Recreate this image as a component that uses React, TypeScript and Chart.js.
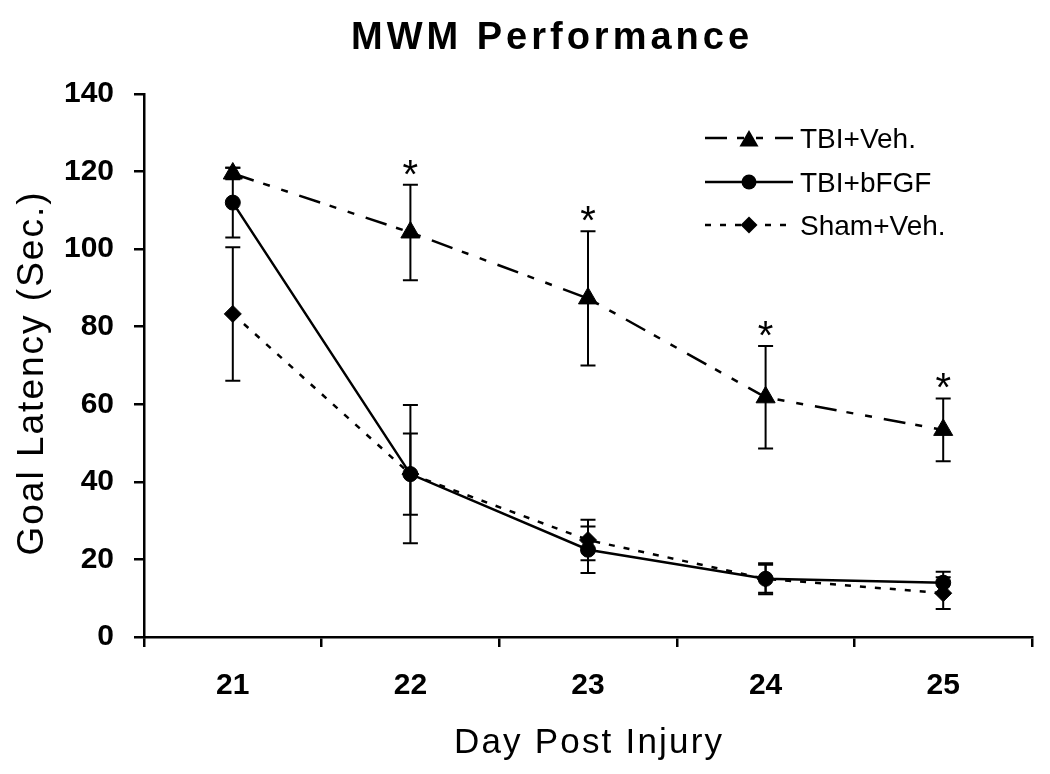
import React, { useEffect, useRef } from "react";
import { Chart, registerables } from "chart.js";

Chart.register(...registerables);

// ---- data ----
const days = ["21", "22", "23", "24", "25"];
const tbiVeh = [119.5, 104.3, 87.3, 61.8, 53.4];
const tbiVehSem = [1.5, 12.3, 17.3, 13.2, 8.1];
const tbiBfgf = [112, 42, 22.5, 15, 14];
const tbiBfgfSem = [9, 10.5, 6, 3.6, 2.8];
const shamVeh = [83.3, 42, 25, 15, 11.3];
const shamVehSem = [17.2, 17.8, 5.2, 4, 4.1];
const significant = [false, true, true, true, true];
const seriesNames = ["TBI+Veh.", "TBI+bFGF", "Sham+Veh."];

const chartTitle = "MWM Performance";
const xTitle = "Day Post Injury";
const yTitle = "Goal Latency (Sec.)";

const FONT = "'Liberation Sans', Arial, Helvetica, sans-serif";
const BLACK = "#000000";

const dashVeh = [22, 10, 7, 12, 7, 12];
const dashSham = [6, 9];
const sems = [tbiVehSem, tbiBfgfSem, shamVehSem];

function drawText(
  ctx: CanvasRenderingContext2D,
  text: string,
  x: number,
  y: number,
  font: string,
  spacing: number,
  align: CanvasTextAlign = "center",
  rotate = 0
) {
  ctx.save();
  ctx.font = font;
  (ctx as any).letterSpacing = spacing + "px";
  ctx.fillStyle = BLACK;
  ctx.textAlign = align;
  ctx.textBaseline = "alphabetic";
  ctx.translate(x, y);
  if (rotate) ctx.rotate(rotate);
  const shift = align === "center" ? spacing / 2 : 0;
  ctx.fillText(text, shift, 0);
  ctx.restore();
}

function drawMarker(ctx: CanvasRenderingContext2D, style: string, r: number, x: number, y: number) {
  ctx.beginPath();
  if (style === "triangle") {
    ctx.moveTo(x, y - r);
    ctx.lineTo(x + (r * Math.sqrt(3)) / 2, y + r / 2);
    ctx.lineTo(x - (r * Math.sqrt(3)) / 2, y + r / 2);
    ctx.closePath();
  } else if (style === "circle") {
    ctx.arc(x, y, r, 0, Math.PI * 2);
  } else {
    ctx.moveTo(x, y - r);
    ctx.lineTo(x + r, y);
    ctx.lineTo(x, y + r);
    ctx.lineTo(x - r, y);
    ctx.closePath();
  }
  ctx.fill();
}

const decorPlugin = {
  id: "decor",
  afterDatasetsDraw(chart: any) {
    const ctx: CanvasRenderingContext2D = chart.ctx;
    const xs = chart.scales.x;
    const ys = chart.scales.y;
    ctx.save();
    ctx.strokeStyle = BLACK;
    ctx.lineWidth = 2;
    ctx.setLineDash([]);
    const cap = 7.5;
    chart.data.datasets.forEach((ds: any, i: number) => {
      ds.data.forEach((v: number, j: number) => {
        const e = sems[i][j];
        const x = xs.getPixelForValue(j);
        const yT = ys.getPixelForValue(v + e);
        const yB = ys.getPixelForValue(v - e);
        ctx.beginPath();
        ctx.moveTo(x, yT);
        ctx.lineTo(x, yB);
        ctx.moveTo(x - cap, yT);
        ctx.lineTo(x + cap, yT);
        ctx.moveTo(x - cap, yB);
        ctx.lineTo(x + cap, yB);
        ctx.stroke();
      });
    });
    ctx.restore();
  },
  afterDraw(chart: any) {
    const ctx: CanvasRenderingContext2D = chart.ctx;
    const xs = chart.scales.x;
    const ys = chart.scales.y;
    const area = chart.chartArea;

    // titles
    drawText(ctx, chartTitle, 550, 49, `bold 38px ${FONT}`, 4);
    drawText(ctx, xTitle, (area.left + area.right) / 2, 753, `35px ${FONT}`, 2.2);
    drawText(ctx, yTitle, 43, 374, `37px ${FONT}`, 2, "center", -Math.PI / 2);

    // significance asterisks
    significant.forEach((s, j) => {
      if (!s) return;
      const x = xs.getPixelForValue(j);
      const y = ys.getPixelForValue(tbiVeh[j] + tbiVehSem[j]) - 20;
      drawText(ctx, "*", x, y + 23, `40px ${FONT}`, 0);
    });

    // legend
    const rows = [138, 182, 225];
    const x0 = 705;
    const x1 = 793;
    const xm = 749;
    chart.data.datasets.forEach((ds: any, i: number) => {
      const y = rows[i];
      ctx.save();
      ctx.strokeStyle = BLACK;
      ctx.lineWidth = 2.5;
      ctx.setLineDash(ds.borderDash || []);
      ctx.beginPath();
      ctx.moveTo(x0, y);
      ctx.lineTo(x1, y);
      ctx.stroke();
      ctx.restore();
      ctx.save();
      ctx.fillStyle = BLACK;
      const yy = ds.pointStyle === "triangle" ? y + 3 : y;
      drawMarker(ctx, ds.pointStyle, ds.pointRadius, xm, yy);
      ctx.restore();
      drawText(ctx, seriesNames[i], 800, y + 10, `28px ${FONT}`, 0, "left");
    });
  },
};

export default function App() {
  const ref = useRef<HTMLCanvasElement | null>(null);

  useEffect(() => {
    if (!ref.current) return;
    const common = {
      borderColor: BLACK,
      backgroundColor: BLACK,
      pointBackgroundColor: BLACK,
      pointBorderColor: BLACK,
      pointBorderWidth: 1,
      borderWidth: 2.5,
      tension: 0,
      fill: false,
    };
    const chart = new Chart(ref.current, {
      type: "line",
      data: {
        labels: days,
        datasets: [
          { ...common, label: seriesNames[0], data: tbiVeh, borderDash: dashVeh, pointStyle: "triangle", pointRadius: 11 },
          { ...common, label: seriesNames[1], data: tbiBfgf, borderDash: [], pointStyle: "circle", pointRadius: 7.5 },
          { ...common, label: seriesNames[2], data: shamVeh, borderDash: dashSham, pointStyle: "rectRot", pointRadius: 8.5 },
        ],
      },
      options: {
        responsive: false,
        animation: false,
        devicePixelRatio: 1,
        layout: { padding: { top: 94, right: 18, left: 0, bottom: 0 } },
        plugins: {
          legend: { display: false },
          title: { display: false },
          tooltip: { enabled: false },
        },
        scales: {
          x: {
            type: "category",
            offset: true,
            grid: {
              display: true,
              drawOnChartArea: false,
              offset: true,
              tickLength: 10,
              color: BLACK,
              lineWidth: 2.5,
            },
            border: { display: true, color: BLACK, width: 2.5 },
            ticks: { color: BLACK, font: { family: FONT, size: 30, weight: "bold" }, padding: 21 },
            afterFit: (s: any) => {
              s.height = 137;
            },
          },
          y: {
            min: 0,
            max: 140,
            ticks: { stepSize: 20, color: BLACK, font: { family: FONT, size: 30, weight: "bold" }, padding: 20 },
            grid: {
              display: true,
              drawOnChartArea: false,
              tickLength: 10,
              color: BLACK,
              lineWidth: 2.5,
            },
            border: { display: true, color: BLACK, width: 2.5 },
            afterFit: (s: any) => {
              s.width = 144;
            },
          },
        },
      } as any,
      plugins: [decorPlugin],
    });
    return () => chart.destroy();
  }, []);

  return (
    <div style={{ position: "absolute", left: 0, top: 0, width: 1050, height: 774, background: "#fff" }}>
      <canvas ref={ref} width={1050} height={774} style={{ display: "block" }} />
    </div>
  );
}
